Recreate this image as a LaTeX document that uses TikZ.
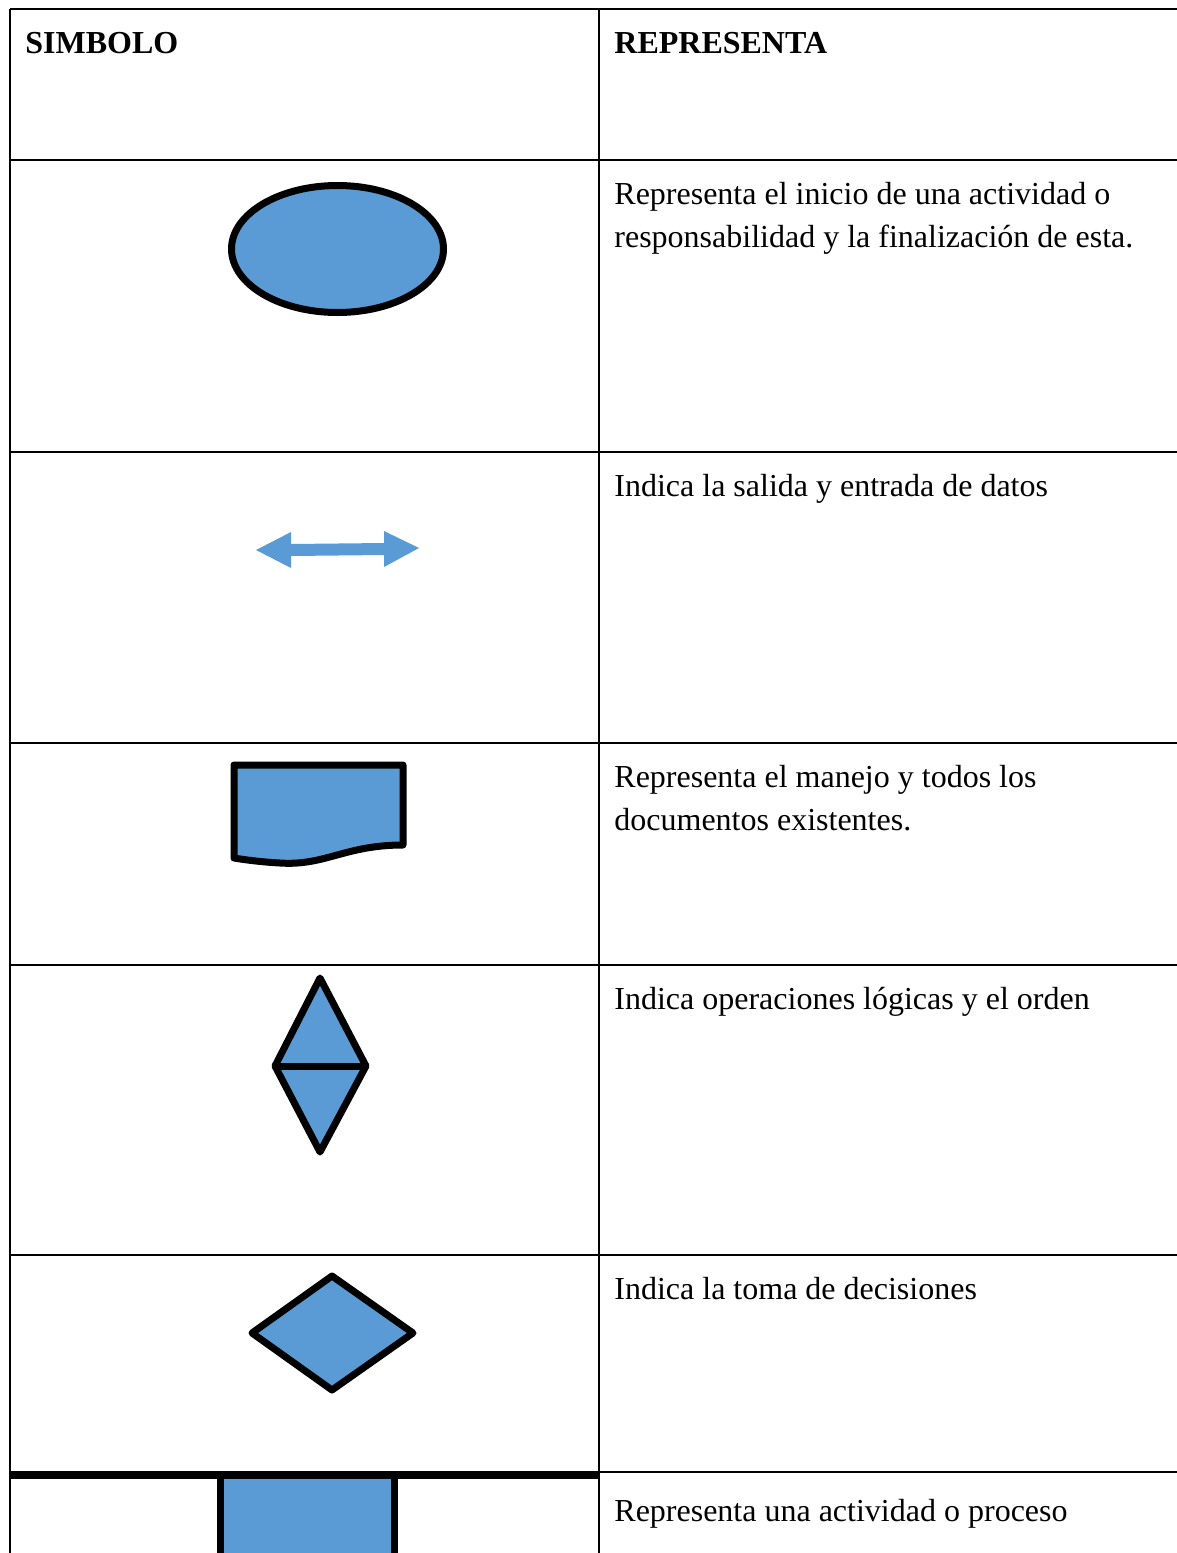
\documentclass[tikz,border=0pt]{standalone}
\usepackage{fontspec}
\setmainfont{Liberation Serif}
\usepackage{tikz}
\usetikzlibrary{calc}
\definecolor{symblue}{HTML}{5B9BD5}
\tikzset{
	gridline/.style={line width=1pt, color=black},
	symline/.style={line width=3.5pt, color=black, fill=symblue, line join=round},
	cellfont/.style={anchor=base west, inner sep=0pt, font=\fontsize{16}{21.5}\selectfont},
}

\begin{document}
\begin{tikzpicture}[x=0.5pt, y=-0.5pt]
		%%%%% START %%%%%
		
		\useasboundingbox (0, 0) rectangle (1177, 1553);
		
		\draw[gridline] (10, 9) -- (1177, 9);
		\draw[gridline] (10, 160) -- (1177, 160);
		\draw[gridline] (10, 452) -- (1177, 452);
		\draw[gridline] (10, 743) -- (1177, 743);
		\draw[gridline] (10, 965) -- (1177, 965);
		\draw[gridline] (10, 1255) -- (1177, 1255);
		\draw[gridline] (599, 1472) -- (1177, 1472);
		\draw[gridline] (10, 9) -- (10, 1553);
		\draw[gridline] (599, 9) -- (599, 1553);
		
		\node[cellfont, font=\fontsize{16}{21.5}\selectfont\bfseries] (hdrsym) at (25, 53) {SIMBOLO};
		\node[cellfont, font=\fontsize{16}{21.5}\selectfont\bfseries] (hdrrep) at (614, 53) {REPRESENTA};
		
		\draw[symline] (337.5, 249) ellipse [x radius=53pt, y radius=31.75pt];
		\node[cellfont] (inicioA) at (614, 204) {Representa el inicio de una actividad o};
		\node[cellfont] (inicioB) at (614, 247) {responsabilidad y la finalización de esta.};
		
		\fill[symblue] (256, 550) -- (291, 532) -- (291, 544) -- (384, 543) -- (384, 531) -- (419, 548)
			-- (384, 567) -- (384, 555) -- (291, 556) -- (291, 568) -- cycle;
		\node[cellfont] (datos) at (614, 496) {Indica la salida y entrada de datos};
		
		\draw[symline] (234, 765) -- (403, 765) -- (403, 845)
			.. controls (345, 845) and (325, 866) .. (280, 863)
			.. controls (262, 862) and (246, 860) .. (234, 858) -- cycle;
		\node[cellfont] (docA) at (614, 787) {Representa el manejo y todos los};
		\node[cellfont] (docB) at (614, 830) {documentos existentes.};
		
		\draw[symline] (320, 978) -- (366, 1066) -- (320, 1152) -- (275, 1066) -- cycle;
		\draw[symline] (275, 1066) -- (366, 1066);
		\node[cellfont] (logica) at (614, 1009) {Indica operaciones lógicas y el orden};
		
		\draw[symline] (332, 1276) -- (413, 1333) -- (332, 1390) -- (252, 1333) -- cycle;
		\node[cellfont] (decision) at (614, 1299) {Indica la toma de decisiones};
		
		\draw[symline] (220, 1600) -- (220, 1475) -- (394, 1475) -- (394, 1600);
		\draw[line width=4pt] (10, 1475) -- (599, 1475);
		\node[cellfont] (proceso) at (614, 1521) {Representa una actividad o proceso};
		
		%%%%% END %%%%%
	\end{tikzpicture}
\end{document}
